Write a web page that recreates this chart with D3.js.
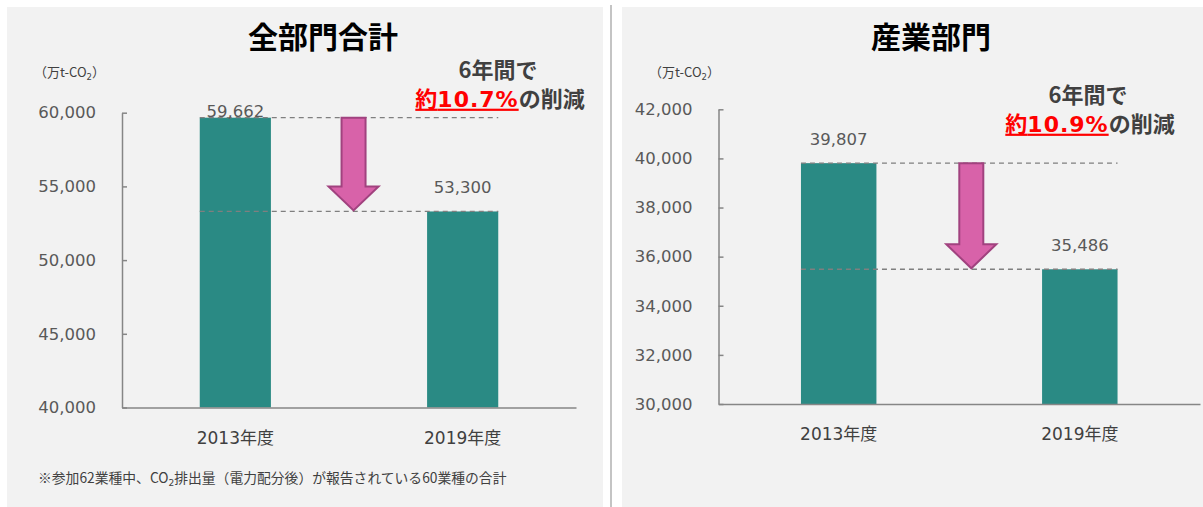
<!DOCTYPE html>
<html>
  <head>
    <meta charset="utf-8">
    <title>CO2 reduction</title>
    <script src="https://cdn.jsdelivr.net/npm/d3@7"></script>
    <style>
      body { margin: 0; background: #fff; }
      text { font-family: "DejaVu Sans", "Noto Sans CJK JP", sans-serif; }
      .cjk { font-family: "Noto Sans CJK JP", sans-serif; }
    </style>
  </head>
  <body>
    <svg width="1203" height="507" id="mainsvg"></svg>
    <script>
    // data
    const categories = ['2013年度', '2019年度'];
    const totalValues = [59662, 53300];
    const industryValues = [39807, 35486];
    const totalTicks = [40000, 45000, 50000, 55000, 60000];
    const industryTicks = [30000, 32000, 34000, 36000, 38000, 40000, 42000];
    const titles = ['全部門合計', '産業部門'];
    const reductions = ['10.7%', '10.9%'];
    const footnote = ['※参加62業種中、CO', '2', '排出量（電力配分後）が報告されている60業種の合計'];

    let svg = d3.select('#mainsvg');
    const fmt = d3.format(',');
    const teal = '#2a8a84';

    // divider between the two panels
    svg.append('line')
      .attr('x1', 611).attr('x2', 611).attr('y1', 5).attr('y2', 507)
      .attr('stroke', '#c4c4c4').attr('stroke-width', 2);

    function drawPanel(p) {
      let g = svg.append('g');
      g.append('rect')
        .attr('x', p.left).attr('y', 7)
        .attr('width', p.right - p.left).attr('height', 500)
        .attr('fill', '#f2f2f2');

      let y = d3.scaleLinear().domain(d3.extent(p.ticks)).range([p.bottom, p.top]);
      let x = d3.scaleBand().domain(categories)
        .range([p.axisX, p.axisEnd])
        .paddingInner(0.687).paddingOuter(0.342);

      // title
      g.append('text')
        .attr('class', 'cjk')
        .attr('x', p.titleX).attr('y', 48)
        .attr('text-anchor', 'middle')
        .attr('font-size', 30).attr('font-weight', 'bold')
        .attr('fill', '#000')
        .text(p.title);

      // unit
      let u = g.append('text')
        .attr('x', p.unitX).attr('y', 77)
        .attr('font-size', 13).attr('fill', '#404040');
      u.append('tspan').attr('class', 'cjk').text('（万t-CO');
      u.append('tspan').attr('font-size', 8.5).attr('dy', 3).text('2');
      u.append('tspan').attr('class', 'cjk').attr('dy', -3).text('）');

      // y axis
      let ya = g.append('g')
        .attr('transform', `translate(${p.axisX},0)`)
        .call(d3.axisLeft(y).tickValues(p.ticks).tickFormat(fmt)
          .tickSizeInner(-5).tickSizeOuter(0).tickPadding(26));
      ya.selectAll('text').attr('font-size', 16.5).attr('fill', '#595959')
        .attr('font-family', 'DejaVu Sans');
      ya.selectAll('line, path').attr('stroke', '#868686').attr('stroke-width', 1.5);

      // bars
      g.selectAll('rect.bar').data(p.values).join('rect')
        .attr('class', 'bar')
        .attr('x', (d, i) => x(categories[i]))
        .attr('width', x.bandwidth())
        .attr('y', d => y(d))
        .attr('height', d => p.bottom - y(d))
        .attr('fill', teal);

      // x axis
      let xa = g.append('g')
        .attr('transform', `translate(0,${p.bottom})`)
        .call(d3.axisBottom(x).tickSize(0).tickPadding(24));
      xa.selectAll('text').attr('font-size', 17).attr('fill', '#404040');
      xa.select('path').attr('stroke', '#868686').attr('stroke-width', 1.5);

      // dashed reference lines
      let x0 = x(categories[0]), x1 = x(categories[1]) + x.bandwidth();
      g.selectAll('line.ref').data(p.values).join('line')
        .attr('class', 'ref')
        .attr('x1', x0).attr('x2', x1)
        .attr('y1', d => y(d)).attr('y2', d => y(d))
        .attr('stroke', '#7f7f7f').attr('stroke-width', 1.3)
        .attr('stroke-dasharray', '5,4');

      // value labels
      g.selectAll('text.val').data(p.values).join('text')
        .attr('class', 'val')
        .attr('x', (d, i) => x(categories[i]) + x.bandwidth() / 2)
        .attr('y', d => Math.max(y(d) - 18, p.top + 4))
        .attr('text-anchor', 'middle')
        .attr('font-size', 16.5).attr('fill', '#595959')
        .text(d => fmt(d));

      // arrow
      let c0 = x(categories[0]) + x.bandwidth() / 2;
      let c1 = x(categories[1]) + x.bandwidth() / 2;
      let ax = c0 + (c1 - c0) * p.arrowPos;
      let yt = y(p.values[0]), yb = y(p.values[1]) - 1;
      let sw = 12, hw = 25, hh = 24;
      let pts = [[ax - sw, yt], [ax + sw, yt], [ax + sw, yb - hh], [ax + hw, yb - hh],
                 [ax, yb], [ax - hw, yb - hh], [ax - sw, yb - hh]];
      g.append('path')
        .attr('d', d3.line()(pts) + 'Z')
        .attr('fill', '#d862a9').attr('stroke', '#a1427f')
        .attr('stroke-width', 2).attr('stroke-linejoin', 'miter');

      // annotation
      g.append('text')
        .attr('class', 'cjk')
        .attr('x', p.noteX).attr('y', p.noteY)
        .attr('text-anchor', 'middle')
        .attr('font-size', 22).attr('font-weight', 'bold').attr('fill', '#404040')
        .text('6年間で');
      let t2 = g.append('text')
        .attr('x', p.noteX + 2).attr('y', p.noteY + 28.7)
        .attr('text-anchor', 'middle')
        .attr('font-size', 22).attr('font-weight', 'bold').attr('fill', '#404040');
      t2.append('tspan').attr('class', 'cjk').attr('fill', '#ff0000')
        .attr('text-decoration', 'underline').text('約');
      t2.append('tspan').attr('fill', '#ff0000').attr('letter-spacing', 1)
        .attr('text-decoration', 'underline').text(p.reduction);
      t2.append('tspan').attr('class', 'cjk').text('の削減');
    }

    drawPanel({
      left: 7, right: 603, axisX: 122, axisEnd: 576, top: 112.7, bottom: 407.5,
      ticks: totalTicks, values: totalValues, title: titles[0], titleX: 323,
      unitX: 34, arrowPos: 0.52, noteX: 498, noteY: 78, reduction: reductions[0]
    });
    drawPanel({
      left: 622, right: 1203, axisX: 718.5, axisEnd: 1200, top: 109.3, bottom: 404,
      ticks: industryTicks, values: industryValues, title: titles[1], titleX: 931,
      unitX: 649, arrowPos: 0.55, noteX: 1088, noteY: 103, reduction: reductions[1]
    });

    // footnote
    let fn = svg.append('text')
      .attr('x', 38).attr('y', 483)
      .attr('font-size', 13.8).attr('fill', '#404040');
    fn.append('tspan').attr('class', 'cjk').text(footnote[0]);
    fn.append('tspan').attr('font-size', 9).attr('dy', 3).text(footnote[1]);
    fn.append('tspan').attr('class', 'cjk').attr('dy', -3).text(footnote[2]);
    </script>
  </body>
</html>
